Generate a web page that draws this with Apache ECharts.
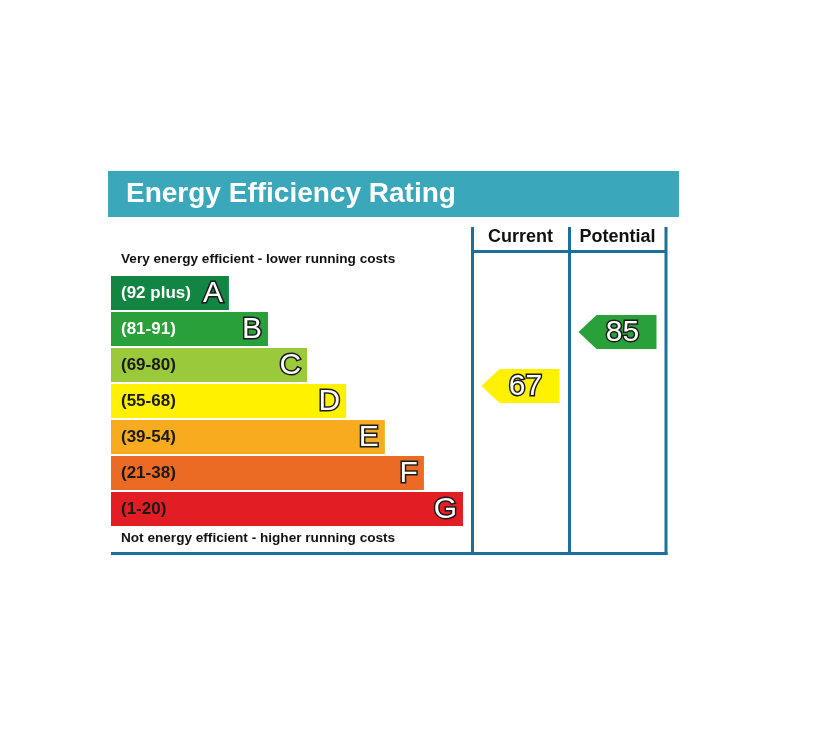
<!DOCTYPE html>
<html>
<head>
<meta charset="utf-8">
<title>Energy Efficiency Rating</title>
<script src="https://cdn.jsdelivr.net/npm/echarts@6/dist/echarts.min.js"></script>
<style>
	html, body { margin: 0; padding: 0; background: #fff; }
	#main { width: 820px; height: 738px; }
</style>
</head>
<body>
<div id="main"></div>
<script>
// rating bands, top (best) to bottom
const bands = ['A', 'B', 'C', 'D', 'E', 'F', 'G'];
const ranges = ['(92 plus)', '(81-91)', '(69-80)', '(55-68)', '(39-54)', '(21-38)', '(1-20)'];
const bandMins = [92, 81, 69, 55, 39, 21, 1];
const barLengths = [33.5, 44.6, 55.7, 66.8, 77.8, 88.9, 100];

// columns on the right
const columns = ['Current', 'Potential'];
const ratings = [67, 85];

const bandColors = ['#138542', '#2aa03a', '#9bc93c', '#fff100', '#f6ac1e', '#eb6a24', '#e21d24'];
const rangeTextColors = ['#ffffff', '#ffffff', '#1a1a1a', '#1a1a1a', '#1a1a1a', '#1a1a1a', '#1a1a1a'];
const FONT = '"Liberation Sans", Arial, Helvetica, sans-serif';
const LINE = '#1b6f98';
const HEAD = '#3aa8ba';

function bandOf(v) {
	for (let i = 0; i < bandMins.length; i++) {
		if (v >= bandMins[i]) return i;
	}
	return bandMins.length - 1;
}

// outlined white glyphs (letters and ratings)
function outlined(text, x, y, align) {
	return {
		type: 'text',
		style: {
			text: text, x: x, y: y,
			align: align, verticalAlign: 'middle',
			fontSize: 30, fontFamily: FONT,
			fill: '#ffffff', stroke: '#1a1a1a', lineWidth: 3, strokeFirst: true
		}
	};
}

// one coloured bar per band, range on the left, letter on the right
function renderBand(params, api) {
	let i = params.dataIndex;
	let end = api.coord([api.value(0), api.value(1)]);
	let start = api.coord([0, api.value(1)]);
	let h = api.size([0, 1])[1] - 2;
	return {
		type: 'group',
		children: [{
			type: 'rect',
			shape: { x: start[0], y: end[1] - h / 2, width: end[0] - start[0], height: h },
			style: { fill: bandColors[i] }
		}, {
			type: 'text',
			style: {
				text: ranges[i], x: start[0] + 10, y: end[1],
				align: 'left', verticalAlign: 'middle',
				fontSize: 17, fontWeight: 'bold', fontFamily: FONT,
				fill: rangeTextColors[i]
			}
		}, outlined(bands[i], end[0] - 6, end[1] + 1, 'right')]
	};
}

// arrow pointing left, coloured by the band of the rating
function renderArrow(params, api) {
	let v = api.value(1);
	let c = api.coord([api.value(0), v]);
	let w = 78, h = 34, head = 18;
	let x0 = c[0] - w / 2, y0 = c[1] - h / 2;
	return {
		type: 'group',
		children: [{
			type: 'polygon',
			shape: { points: [[x0, c[1]], [x0 + head, y0], [x0 + w, y0], [x0 + w, y0 + h], [x0 + head, y0 + h]] },
			style: { fill: bandColors[bandOf(v)] }
		}, outlined(String(v), c[0] + 5, c[1] + 1, 'center')]
	};
}

let chart = echarts.init(document.getElementById('main'));

let option = {
	backgroundColor: '#ffffff',
	animation: false,
	grid: [
		{ left: 111, top: 275, width: 352, height: 252 },
		{ left: 472, top: 251, width: 194, height: 303 }
	],
	xAxis: [{
		gridIndex: 0, type: 'value', min: 0, max: 100, show: false
	}, {
		gridIndex: 1, type: 'category', data: columns, position: 'top',
		axisLine: { show: false },
		axisTick: { show: false },
		axisLabel: { interval: 0, color: '#111111', fontSize: 18, fontWeight: 'bold', fontFamily: FONT, margin: 5 }
	}],
	yAxis: [{
		gridIndex: 0, type: 'category', data: bands, inverse: true, show: false
	}, {
		gridIndex: 1, type: 'value', min: 11, max: 112, show: false
	}],
	graphic: [{
		type: 'rect', left: 108, top: 171,
		shape: { width: 571, height: 46 },
		style: { fill: HEAD }
	}, {
		type: 'text', left: 126, top: 180,
		style: { text: 'Energy Efficiency Rating', fontSize: 28, fontWeight: 'bold', fontFamily: FONT, fill: '#ffffff' }
	}, {
		type: 'text', left: 121, top: 252,
		style: { text: 'Very energy efficient - lower running costs', fontSize: 13.6, fontWeight: 'bold', fontFamily: FONT, fill: '#111111' }
	}, {
		type: 'text', left: 121, top: 531,
		style: { text: 'Not energy efficient - higher running costs', fontSize: 13.6, fontWeight: 'bold', fontFamily: FONT, fill: '#111111' }
	}, {
		type: 'group',
		children: [
			{ type: 'line', shape: { x1: 472.5, y1: 227, x2: 472.5, y2: 555 }, style: { stroke: LINE, lineWidth: 3 } },
			{ type: 'line', shape: { x1: 569.5, y1: 227, x2: 569.5, y2: 555 }, style: { stroke: LINE, lineWidth: 3 } },
			{ type: 'line', shape: { x1: 666, y1: 227, x2: 666, y2: 555 }, style: { stroke: LINE, lineWidth: 3 } },
			{ type: 'line', shape: { x1: 472, y1: 251.5, x2: 666, y2: 251.5 }, style: { stroke: LINE, lineWidth: 3 } },
			{ type: 'line', shape: { x1: 111, y1: 553.5, x2: 667.5, y2: 553.5 }, style: { stroke: LINE, lineWidth: 3 } }
		]
	}],
	series: [{
		type: 'custom',
		name: 'bands',
		xAxisIndex: 0,
		yAxisIndex: 0,
		renderItem: renderBand,
		encode: { x: 0, y: 1 },
		data: bands.map((b, i) => [barLengths[i], i])
	}, {
		type: 'custom',
		name: 'ratings',
		xAxisIndex: 1,
		yAxisIndex: 1,
		renderItem: renderArrow,
		encode: { x: 0, y: 1 },
		data: ratings.map((v, i) => [i, v])
	}]
};

chart.setOption(option);
</script>
</body>
</html>
